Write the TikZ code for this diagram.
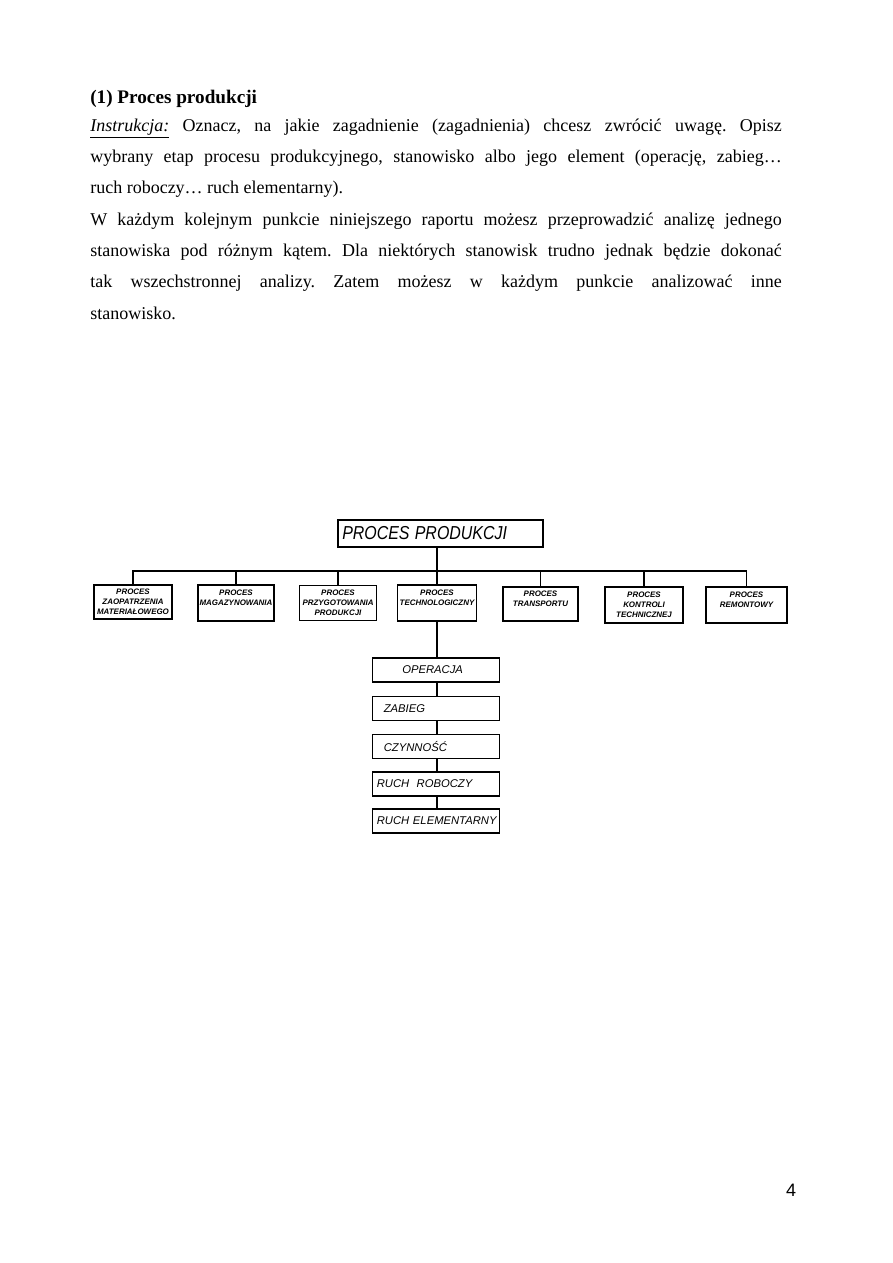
\documentclass[tikz,border=0pt]{standalone}
\usepackage{fontspec}
\usepackage{graphicx}
\setmainfont{Liberation Serif}
\newfontfamily\diagfont{Liberation Sans}
\frenchspacing
\tikzset{
  topbox/.style={draw, line width=1.2pt, minimum width=205*0.6667pt, minimum height=27*0.6667pt,
    inner sep=0pt, text width=131pt, align=left, font=\diagfont\itshape\fontsize{12.5}{14}\selectfont},
  childbox/.style={draw, line width=1.1pt, inner sep=1pt, align=center,
    font=\diagfont\bfseries\itshape\fontsize{5.3}{6.6}\selectfont},
  chainbox/.style={draw, line width=1.1pt, minimum width=127*0.6667pt, minimum height=24*0.6667pt,
    text width=79pt, align=left, inner sep=0pt, font=\diagfont\itshape\fontsize{7.5}{9}\selectfont},
  link/.style={line width=0.9pt},
  para/.style={inner sep=0pt, text width=461pt, align=justify, font=\fontsize{12}{20.9}\selectfont}
}
\begin{document}
\begin{tikzpicture}[x=0.6667pt,y=-0.6667pt]
\fill[white] (0,0) rectangle (893,1263);
\useasboundingbox (0,0) rectangle (893,1263);

% heading and paragraph
\node[inner sep=0pt, anchor=base west, font=\fontsize{12.8}{14}\selectfont\bfseries] (title) at (90,103) {(1) Proces produkcji};
\node[para, anchor=base west] (text) at (90,131) {\tolerance=10000\hyphenpenalty=10000\parindent=0pt\frenchspacing
\underline{\textit{Instrukcja:}} Oznacz, na jakie zagadnienie (zagadnienia) chcesz zwrócić uwagę. Opisz\linebreak
wybrany etap procesu produkcyjnego, stanowisko albo jego element (operację, zabieg…\linebreak
ruch roboczy… ruch elementarny).\par
W każdym kolejnym punkcie niniejszego raportu możesz przeprowadzić analizę jednego\linebreak
stanowiska pod różnym kątem. Dla niektórych stanowisk trudno jednak będzie dokonać\linebreak
tak wszechstronnej analizy. Zatem możesz w każdym punkcie analizować inne\linebreak
stanowisko.};

% top box
\node[topbox] (top) at (440.5,533.5) {\scalebox{0.85}[1]{PROCES PRODUKCJI}};

% child boxes
\node[childbox, minimum width=78*0.6667pt, minimum height=34*0.6667pt] (c1) at (133,602) {PROCES\\ZAOPATRZENIA\\MATERIAŁOWEGO};
\node[childbox, minimum width=75*0.6667pt, minimum height=36*0.6667pt] (c2) at (236,603) {PROCES\\MAGAZYNOWANIA\\\mbox{}};
\node[childbox, minimum width=77*0.6667pt, minimum height=35*0.6667pt] (c3) at (338,603) {PROCES\\PRZYGOTOWANIA\\PRODUKCJI};
\node[childbox, minimum width=79*0.6667pt, minimum height=36*0.6667pt] (c4) at (437,603) {PROCES\\TECHNOLOGICZNY\\\mbox{}};
\node[childbox, minimum width=75*0.6667pt, minimum height=34*0.6667pt] (c5) at (540.5,604) {PROCES\\TRANSPORTU\\\mbox{}};
\node[childbox, minimum width=78*0.6667pt, minimum height=36*0.6667pt] (c6) at (644,605) {PROCES\\KONTROLI\\TECHNICZNEJ};
\node[childbox, minimum width=81*0.6667pt, minimum height=36*0.6667pt] (c7) at (746.5,605) {PROCES\\REMONTOWY\\\mbox{}};

% chain
\node[chainbox] (op) at (436,670) {\hspace*{17pt}OPERACJA};
\node[chainbox] (za) at (436,708.5) {\hspace*{4.7pt}ZABIEG};
\node[chainbox] (cz) at (436,746.5) {\hspace*{4.7pt}CZYNNOŚĆ};
\node[chainbox] (rr) at (436,784) {RUCH\ \ ROBOCZY};
\node[chainbox] (re) at (436,821) {\mbox{RUCH ELEMENTARNY}};

% connectors
\coordinate (bus) at (437,571);
\draw[link] (top.south -| c4.north) -- (c4.north);
\draw[link] (c1.north) -- (c1.north |- bus) -- (c7.north |- bus) -- (c7.north);
\foreach \n in {c2,c3,c5,c6} \draw[link] (\n.north) -- (\n.north |- bus);
\draw[link] (c4.south) -- (c4.south |- op.north);
\draw[link] (op.south -| c4.south) -- (za.north -| c4.south);
\draw[link] (za.south -| c4.south) -- (cz.north -| c4.south);
\draw[link] (cz.south -| c4.south) -- (rr.north -| c4.south);
\draw[link] (rr.south -| c4.south) -- (re.north -| c4.south);

% page number
\node[inner sep=0pt, font=\diagfont\fontsize{12}{14}\selectfont] (pg) at (791,1190) {4};
\end{tikzpicture}
\end{document}
